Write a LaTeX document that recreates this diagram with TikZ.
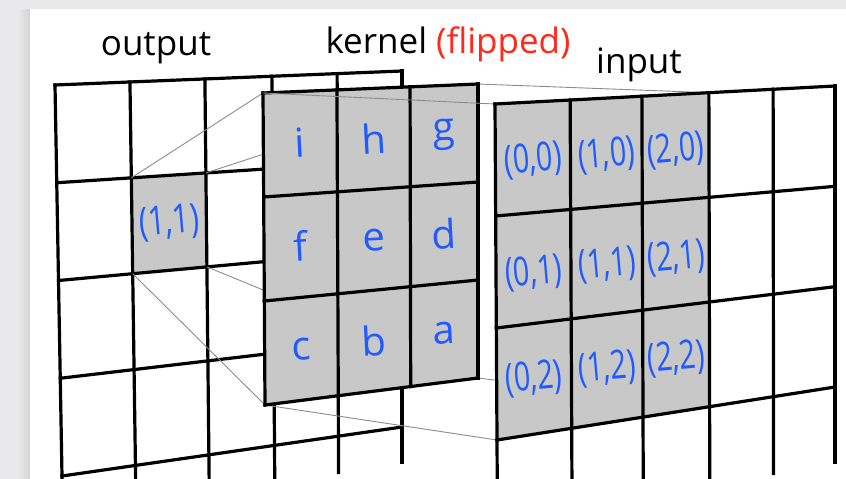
\documentclass[tikz,border=0pt]{standalone}
\usepackage{fontspec}
\setmainfont{Open Sans}
\usepackage{graphicx}
\usetikzlibrary{calc}
\definecolor{lblblue}{HTML}{1F5BFF}
\definecolor{flipred}{HTML}{FF2A1A}
\definecolor{cellgray}{HTML}{C8C8C8}
\definecolor{bggray}{HTML}{E9E9EB}
\definecolor{guide}{HTML}{8C8C8C}
\begin{document}
\begin{tikzpicture}[x=1pt,y=-1pt,
  gridline/.style={line width=3.2pt, line cap=rect, line join=miter},
  guideline/.style={line width=0.9pt, draw=guide},
  title/.style={font=\fontsize{35}{40}\selectfont, anchor=base, inner sep=0pt},
  klabel/.style={font=\fontsize{40}{44}\selectfont, text=lblblue, inner sep=0pt, rotate=3},
  clabel/.style={font=\fontsize{40}{44}\selectfont, text=lblblue, inner sep=0pt, rotate=5},
]
\useasboundingbox (0,0) rectangle (846,479);
\clip (0,0) rectangle (846,479);

% ---------- background card ----------
\fill[bggray] (0,0) rectangle (846,479);
\shade[left color=bggray, right color=black!17] (18,9) rectangle (30,479);
\fill[white] (30,9) rectangle (846,479);

% ---------- plane corners ----------
% output plane (4 rows between top and bottom corners)
\coordinate (oTL) at (55,85);   \coordinate (oTR) at (402,71);
\coordinate (oBL) at (62,476);  \coordinate (oBR) at (402,427);
\coordinate (oBLx) at ($(oTL)!1.1!(oBL)$);
\coordinate (oBRx) at ($(oTR)!1.1!(oBR)$);
% kernel plane
\coordinate (kTL) at (263,93);  \coordinate (kTR) at (478,84);
\coordinate (kBL) at (265,405); \coordinate (kBR) at (478,378);
% input plane (3 rows between top and bottom corners)
\coordinate (iTL) at (495,104); \coordinate (iTR) at (835,86);
\coordinate (iBL) at (497,440); \coordinate (iBR) at (835,387);
\coordinate (iBLx) at ($(iTL)!1.25!(iBL)$);
\coordinate (iBRx) at ($(iTR)!1.25!(iBR)$);
\coordinate (iGTR) at ($(iTL)!.629!(iTR)$);
\coordinate (iGBR) at ($(iBL)!.629!(iBR)$);
% output pixel (1,1)
\coordinate (oL1) at ($(oTL)!.25!(oBL)$);  \coordinate (oR1) at ($(oTR)!.25!(oBR)$);
\coordinate (oL2) at ($(oTL)!.5!(oBL)$);   \coordinate (oR2) at ($(oTR)!.5!(oBR)$);
\coordinate (oLm) at ($(oTL)!.375!(oBL)$); \coordinate (oRm) at ($(oTR)!.375!(oBR)$);
\coordinate (c11a) at ($(oL1)!.216!(oR1)$);
\coordinate (c11b) at ($(oL1)!.432!(oR1)$);
\coordinate (c11c) at ($(oL2)!.216!(oR2)$);
\coordinate (c11d) at ($(oL2)!.432!(oR2)$);

% ---------- output grid ----------
\fill[cellgray] (c11a) -- (c11b) -- (c11d) -- (c11c) -- cycle;
\foreach \v in {0,.25,.5,.75,1}
  \draw[gridline] ($(oTL)!\v!(oBL)$) -- ($(oTR)!\v!(oBR)$);
\foreach \u in {0,.216,.432,.625,.813,1}
  \draw[gridline] ($(oTL)!\u!(oTR)$) -- ($(oBLx)!\u!(oBRx)$);
\node[clabel] (l11) at ($(oLm)!.324!(oRm)$) {\scalebox{.76}[1]{(1,1)}};

% ---------- guide lines behind the kernel ----------
\draw[guideline] (c11a) -- (kTL);
\draw[guideline] (c11b) -- (kTR);
\draw[guideline] (c11c) -- (kBL);
\draw[guideline] (c11d) -- (kBR);
\draw[guideline] (kBL) -- (iBL);
\draw[guideline] (kBR) -- (iGBR);
\draw[guideline] (kTR) -- (iGTR);

% ---------- kernel ----------
\fill[cellgray] (kTL) -- (kTR) -- (kBR) -- (kBL) -- cycle;
\foreach \v in {0,.3333,.6667,1}
  \draw[gridline] ($(kTL)!\v!(kBL)$) -- ($(kTR)!\v!(kBR)$);
\foreach \u in {0,.344,.684,1}
  \draw[gridline] ($(kTL)!\u!(kTR)$) -- ($(kBL)!\u!(kBR)$);
\foreach \lab/\u/\v in {i/.172/.1667, h/.514/.1667, g/.842/.1667,
                        f/.172/.5, e/.514/.5, d/.842/.5,
                        c/.172/.8333, b/.514/.8333, a/.842/.8333}{
  \coordinate (kl) at ($(kTL)!\v!(kBL)$);
  \coordinate (kr) at ($(kTR)!\v!(kBR)$);
  \node[klabel] (k-\lab) at ($(kl)!\u!(kr)$) {\lab};
}
\draw[guideline] (kTL) -- (iTL);

% ---------- input grid ----------
\fill[white] (iTL) -- (iTR) -- (iBRx) -- (iBLx) -- cycle;
\fill[cellgray] (iTL) -- (iGTR) -- (iGBR) -- (iBL) -- cycle;
\foreach \v in {0,.3333,.6667,1}
  \draw[gridline] ($(iTL)!\v!(iBL)$) -- ($(iTR)!\v!(iBR)$);
\foreach \u in {0,.221,.432,.629,.818,1}
  \draw[gridline] ($(iTL)!\u!(iTR)$) -- ($(iBLx)!\u!(iBRx)$);
\foreach \c/\u in {0/.1105, 1/.3265, 2/.5305}{
  \foreach \r/\v/\dy in {0/.1667/3, 1/.5/5, 2/.8333/0}{
    \coordinate (il) at ($(iTL)!\v!(iBL)$);
    \coordinate (ir) at ($(iTR)!\v!(iBR)$);
    \node[clabel, yshift=-\dy pt] (in-\c-\r) at ($(il)!\u!(ir)$) {\scalebox{.72}[1]{(\c,\r)}};
  }
}

% ---------- titles ----------
\node[title] (tout) at (156,55) {output};
\node[title] (tker) at (448,53) {kernel \textcolor{flipred}{(flipped)}};
\node[title] (tin)  at (639,73) {input};
\end{tikzpicture}
\end{document}
